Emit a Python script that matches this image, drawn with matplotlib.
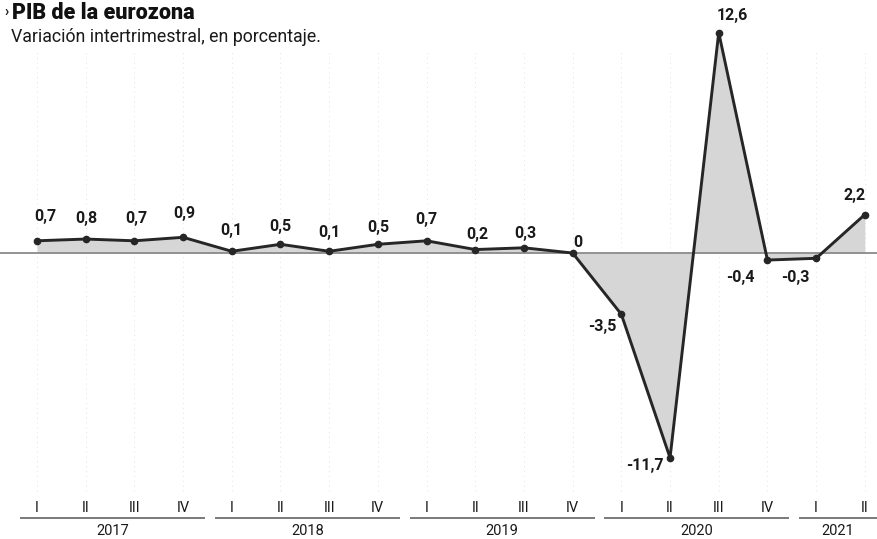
import matplotlib
matplotlib.use("Agg")
import matplotlib.pyplot as plt
import numpy as np

# ---- data ----
quarters = ["I", "II", "III", "IV"] * 4 + ["I", "II"]
years = ["2017", "2018", "2019", "2020", "2021"]
values = [0.7, 0.8, 0.7, 0.9, 0.1, 0.5, 0.1, 0.5, 0.7, 0.2, 0.3, 0.0,
          -3.5, -11.7, 12.6, -0.4, -0.3, 2.2]
labels = ["0,7", "0,8", "0,7", "0,9", "0,1", "0,5", "0,1", "0,5", "0,7", "0,2",
          "0,3", "0", "-3,5", "-11,7", "12,6", "-0,4", "-0,3", "2,2"]
# label offsets in pixels (dx, dy)
offsets = [(8, 24), (1, 21), (2, 22), (1, 24), (0, 21), (0, 18), (0, 19), (0, 17),
           (0, 21), (2, 15), (1, 14), (5, 11), (-19, -12), (-25, -8), (14, 17),
           (-27, -17), (-21, -19), (-10, 19)]

plt.rcParams['font.family'] = ['Roboto', 'DejaVu Sans']

fig = plt.figure(figsize=(8.77, 5.39), dpi=100)
ax = fig.add_axes([0, 0, 1, 1])
x = np.arange(len(values))
ax.set_xlim(-0.76, 17.25)
ax.set_ylim(-16.34, 14.46)
ax.axis('off')

# faint vertical dotted grid
for xi in x:
    ax.plot([xi, xi], [-13.6, 11.5], color='#e2e2e2', lw=0.7, ls=(0, (1, 4)), zorder=0)

ax.fill_between(x, values, 0, color='#d6d6d6', zorder=1, lw=0)
ax.axhline(0, color='#8a8a8a', lw=1.3, zorder=2)
ax.plot(x, values, color='#262626', lw=2.1, zorder=3, marker='o', ms=4.5,
        markerfacecolor='#262626', markeredgecolor='#262626')

for xi, v, lab, (dx, dy) in zip(x, values, labels, offsets):
    ax.annotate(lab, (xi, v), xytext=(dx, dy), textcoords='offset pixels',
                ha='center', va='center', fontsize=11.5, fontweight='bold',
                color='#1a1a1a', zorder=4)

# quarter tick labels
for xi, q in zip(x, quarters):
    ax.text(xi, -14.57, q, ha='center', va='center', fontsize=10.5, color='#1a1a1a')

# year groups
for k, yr in enumerate(years):
    first = 4 * k
    last = min(4 * k + 3, len(values) - 1)
    start = first - 0.35
    end = last + 0.45 if last < len(values) - 1 else 17.25
    ax.plot([start, end], [-15.14, -15.14], color='#7a7a7a', lw=1.4, solid_capstyle='butt')
    ax.text((start + end) / 2, -15.87, yr, ha='center', va='center', fontsize=10.5,
            color='#1a1a1a')

# titles
fig.text(0.005, 0.978, "›", fontsize=10, fontweight='bold', ha='left', va='center', color='#1a1a1a')
fig.text(0.014, 0.976, "PIB de la eurozona", fontsize=15.5, fontweight='heavy',
         ha='left', va='center', color='#111111')
fig.text(0.013, 0.932, "Variación intertrimestral, en porcentaje.", fontsize=12.8,
         ha='left', va='center', color='#1a1a1a')

fig.savefig("out.png", dpi=100)
